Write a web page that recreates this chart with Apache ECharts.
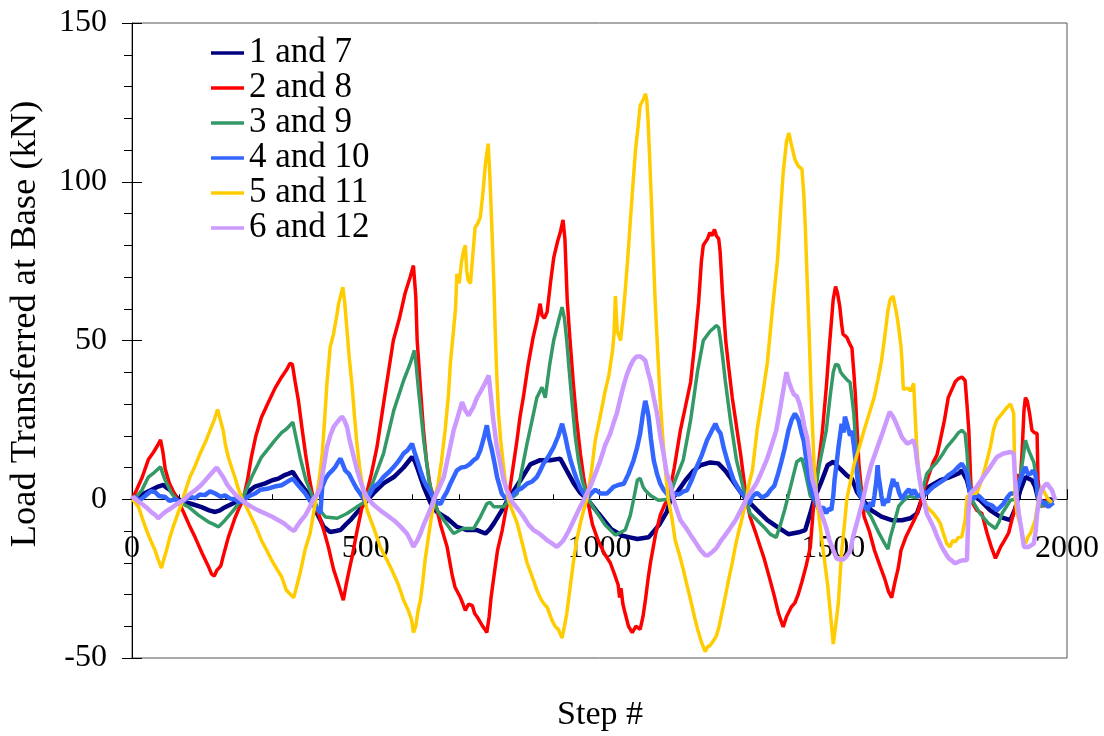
<!DOCTYPE html>
<html>
<head>
<meta charset="utf-8">
<script src="https://cdn.jsdelivr.net/npm/echarts@6/dist/echarts.min.js"></script>
<style>html,body{margin:0;padding:0;background:#fff}#c{width:1104px;height:736px}</style>
</head>
<body>
<div id="c"></div>
<script>
var seriesNames = ['1 and 7','2 and 8','3 and 9','4 and 10','5 and 11','6 and 12'];
var xTicks = [0,500,1000,1500,2000];
var yTicks = [-50,0,50,100,150];

var load1and7 = [[0,0],[15,1],[28,2],[42,3],[56,4],[67,4.5],[75,3.5],[81,3],[90,1.5],[99,0],[115,-1],[128,-1.5],[149,-2.5],[165,-3.5],[178,-4],[188,-3.5],[199,-2.5],[220,-1],[238,0],[250,2.5],[263,4],[285,5],[300,6],[313,6.5],[325,7.5],[334,8],[344,8.6],[355,6],[370,3],[385,0.5],[396,-4.5],[410,-8.7],[424,-10.3],[436,-10],[446,-9.7],[457,-8],[467,-6.6],[485,-3.5],[499,-1],[517,2],[538,5],[560,7],[581,10],[599,13.3],[605,12],[610,10],[624,4],[638,-1],[652,-4],[674,-6],[695,-8.7],[717,-9.7],[738,-9.7],[756,-10.8],[765,-9.5],[774,-7.6],[791,-3.5],[805,0],[818,3],[831,6],[852,11],[873,12.3],[895,12.3],[916,12.8],[930,9],[945,5],[959,2],[974,0],[998,-4.5],[1025,-9.4],[1049,-11.5],[1065,-12],[1081,-12.5],[1105,-12],[1128,-8],[1144,-4],[1150,-1],[1169,2.8],[1184,6],[1201,9],[1216,10.7],[1237,11.6],[1254,11.3],[1269,9],[1284,6],[1302,2.2],[1314,0],[1337,-3.4],[1359,-6.6],[1381,-8.8],[1404,-11],[1426,-10.4],[1440,-9.7],[1451,-4.4],[1459,0],[1474,5.3],[1488,10.7],[1500,11.8],[1514,9.7],[1529,7.5],[1540,6.4],[1551,2.2],[1562,0],[1581,-3.4],[1603,-5.5],[1625,-6.6],[1647,-6.6],[1665,-6],[1679,-4.5],[1689,-0.3],[1704,3.9],[1729,6],[1750,7],[1768,8.1],[1775,9.1],[1786,6],[1793,1.8],[1814,-0.3],[1836,-3.5],[1858,-5.6],[1879,-6.6],[1889,-3],[1900,2.8],[1911,7],[1925,6],[1932,3.9],[1939,-0.3],[1950,-1],[1964,0],[1972,-0.5]];

var load2and8 = [[0,0],[10,3],[22,7],[35,12.5],[46,14.8],[55,17],[61,18.7],[66,15],[71,9.5],[80,5],[90,2],[97,0],[110,-4],[122,-8],[135,-12],[150,-17],[163,-21],[170,-23.5],[176,-24.2],[181,-22.5],[185,-23],[190,-21],[195,-18],[206,-12],[220,-6],[230,-2.5],[238,0],[247,6],[255,13],[265,20],[277,25.8],[290,30],[306,35],[318,38],[330,40.6],[338,42.8],[343,42.5],[349,37],[356,31],[364,22],[371,14.5],[380,6],[388,0],[400,-5],[410,-9.7],[420,-15],[431,-22],[442,-27],[452,-31.8],[458,-27],[465,-22],[471,-18],[480,-11],[492,-2.5],[499,0],[512,8],[524,16.4],[540,32],[559,50],[572,57],[584,64.8],[595,70],[602,73.6],[607,64],[610,50],[617,35],[623,22.6],[630,12],[638,4],[647,0],[660,-8],[674,-15],[685,-24],[691,-27.7],[702,-30.8],[708,-33],[713,-35],[720,-33],[728,-33.5],[733,-36],[738,-37],[748,-39.5],[755,-41],[759,-42],[764,-37],[768,-31],[773,-25.5],[782,-16],[792,-9.7],[799,-4],[805,0],[815,10],[823,18],[830,26],[837,32],[847,42],[858,51],[866,56],[873,61.6],[877,58],[882,57],[888,59],[895,68],[902,76],[910,81],[916,84],[922,88],[926,82],[931,62.6],[937,50],[944,36.5],[951,25],[959,14.5],[966,7],[974,0],[985,-8],[997,-13],[1010,-17],[1023,-20],[1033,-24],[1040,-27],[1043,-31],[1046,-28],[1050,-33],[1055,-36],[1062,-40],[1070,-42],[1078,-40],[1087,-41],[1093,-37],[1098,-32],[1104,-25],[1109,-20],[1120,-11],[1130,-5],[1140,-1.5],[1147,0],[1160,10],[1173,21.7],[1185,30],[1195,37],[1203,48],[1212,62],[1218,75],[1222,80],[1231,82],[1236,84],[1241,83],[1246,85],[1250,83],[1255,82],[1258,78],[1263,65],[1270,50],[1276,42],[1284,32],[1291,25],[1297,19],[1302,14],[1309,6],[1314,0],[1322,-5.5],[1335,-11],[1352,-18.6],[1364,-25],[1374,-30.5],[1383,-36],[1390,-39],[1393,-40.2],[1400,-37],[1410,-34],[1418,-32.6],[1425,-30],[1433,-26],[1442,-21],[1451,-15],[1459,0],[1466,8],[1477,21.7],[1485,35],[1492,48.7],[1500,63],[1505,67],[1509,65],[1514,60.7],[1518,55],[1521,52],[1529,51],[1535,49],[1540,47.6],[1544,40],[1547,33.6],[1551,22],[1555,10.7],[1563,-1],[1566,-5.5],[1577,-10],[1588,-16],[1600,-21],[1610,-25],[1618,-29],[1625,-31],[1632,-26],[1639,-21.7],[1645,-16],[1655,-12],[1665,-9],[1675,-6],[1682,-3.5],[1692,2],[1703,7],[1714,11.7],[1722,14],[1729,18.6],[1738,25],[1746,32],[1755,35],[1761,37],[1768,38],[1775,38.5],[1782,37.4],[1786,30],[1790,21.7],[1794,6],[1797,-1],[1807,-3.5],[1818,-4.5],[1829,-10.7],[1838,-15],[1847,-18.6],[1852,-17],[1858,-15],[1866,-13],[1875,-10.7],[1883,-6],[1890,-2.4],[1893,3],[1897,8],[1900,6],[1904,15],[1908,28],[1911,32],[1915,31],[1920,27],[1925,21.7],[1930,21],[1936,20.7],[1938,6],[1943,0],[1950,-2.4],[1957,0],[1965,-1]];

var load3and9 = [[0,0],[10,1],[21,2.8],[35,7],[48,8.5],[61,10.2],[66,8],[71,6],[85,1.8],[99,-0.8],[121,-2.4],[142,-5],[163,-7.1],[176,-8],[185,-8.7],[199,-6.6],[217,-3.5],[238,0.7],[256,7],[277,13.3],[292,16],[306,18.6],[320,21],[331,22.2],[344,24.3],[350,20],[360,13],[372,6],[385,1.3],[396,-2.4],[414,-5.6],[439,-6],[460,-4.5],[481,-2.4],[499,-0.8],[517,6],[538,14.4],[560,28],[581,37.4],[595,42.7],[604,46.9],[608,42],[613,34.3],[624,18.6],[635,6],[645,-0.3],[655,-4],[667,-6.6],[688,-10.8],[709,-9.2],[731,-9.2],[745,-5.6],[759,-1.4],[766,-1],[774,-2.4],[795,-2.4],[806,-0.3],[824,1.8],[845,17.5],[856,25],[866,32],[877,35.3],[884,32],[893,42],[902,50],[912,56],[920,60.5],[925,57],[930,50],[935,41],[941,31],[948,20],[955,12.3],[963,6],[970,2.8],[976,0],[991,-3.5],[1012,-8],[1034,-11.3],[1055,-9.7],[1066,-5],[1073,0],[1081,6],[1087,6.6],[1093,4],[1098,2.8],[1109,1.2],[1126,-0.3],[1147,0],[1162,6],[1179,12.3],[1195,25],[1210,40.6],[1222,50],[1237,53],[1245,54],[1250,54.7],[1255,54],[1259,50],[1264,44],[1269,37.4],[1280,25],[1293,12.3],[1306,4.4],[1314,0],[1322,-4.4],[1352,-8.8],[1365,-11],[1378,-12],[1387,-8],[1396,-3.4],[1411,5.3],[1422,11.8],[1433,12.9],[1440,8.6],[1451,1],[1459,0],[1470,10.7],[1485,21.6],[1493,32],[1500,40],[1505,42.5],[1511,42.2],[1516,40],[1521,39],[1530,37.5],[1536,36.8],[1540,32],[1544,27],[1548,18],[1551,10.7],[1562,-1.2],[1581,-5.5],[1599,-11],[1610,-14],[1617,-15.7],[1622,-12],[1628,-8.8],[1640,-2.2],[1650,-0.5],[1662,1],[1675,0.5],[1686,1],[1693,4],[1700,8],[1711,10],[1722,11.7],[1733,14],[1743,16.4],[1752,18],[1761,19.6],[1768,21],[1775,21.7],[1782,20.7],[1786,15],[1789,8],[1797,-0.3],[1814,-4.5],[1832,-7.6],[1847,-9.2],[1855,-7],[1861,-4.5],[1879,-0.3],[1889,0],[1895,3],[1900,7],[1906,13],[1911,18.6],[1918,15.4],[1925,13],[1929,11.7],[1933,8],[1936,1.8],[1943,-2.4],[1953,-1.4],[1964,-0.3]];

var load4and10 = [[0,0],[7,0.7],[15,-0.5],[28,1],[40,2.5],[49,2.3],[58,1],[71,0.7],[80,-0.5],[92,0],[103,-0.8],[113,-0.3],[124,0.8],[135,0.3],[145,1.5],[156,1.3],[167,2.5],[178,1.8],[189,0.8],[199,1.2],[210,0.2],[220,0],[230,-1],[238,-0.3],[250,1],[263,1.8],[275,3],[292,3.4],[305,4],[320,4.4],[332,5.5],[344,6.5],[355,4.5],[370,2],[385,-1.4],[396,-3],[403,-4.4],[407,4],[414,6.5],[421,8],[428,9],[435,10.2],[440,11.5],[446,12.8],[451,11],[456,9.1],[464,8],[471,6],[480,3.5],[488,1.8],[499,-0.7],[508,1.5],[517,3.9],[527,5],[538,7],[549,8.5],[560,10.2],[570,12],[581,14.4],[590,15.5],[599,17.5],[604,15],[610,12.3],[617,9],[624,6],[631,4],[638,2.3],[645,0.5],[652,-1],[660,-1.5],[667,0.7],[674,2.5],[681,4.9],[688,7],[695,9.1],[704,10],[713,10.2],[722,11],[731,12.3],[738,13],[745,15.4],[752,19],[759,23.3],[764,19],[770,15.4],[776,11],[781,7],[791,1.8],[802,-0.3],[813,1],[824,2.8],[834,3.5],[845,4.9],[855,5.5],[866,7],[873,9],[880,11.2],[891,13.5],[902,16.4],[912,20],[920,23.8],[927,19.6],[932,16],[938,12.3],[945,9],[952,6],[959,3.5],[966,1.8],[974,0],[980,1.5],[991,3],[1002,1.8],[1016,1.8],[1030,3.9],[1040,4.5],[1052,4.9],[1062,8],[1073,12.3],[1080,16],[1087,20.7],[1093,27],[1098,31],[1101,29],[1105,25.9],[1110,19],[1116,12.3],[1123,8],[1130,4.9],[1137,3],[1144,1.8],[1150,0.5],[1159,1.8],[1170,1.5],[1180,2.5],[1187,2.8],[1197,6],[1208,10.2],[1219,14],[1230,18.6],[1240,21.5],[1248,23.8],[1253,22],[1259,20.7],[1266,16],[1273,12.3],[1280,9],[1287,6],[1295,4],[1302,2.3],[1312,0.7],[1320,-1.5],[1328,1],[1337,2],[1348,0.5],[1359,1.5],[1366,3],[1374,4.2],[1382,8],[1389,11.8],[1396,16],[1404,21.6],[1411,25],[1418,27],[1422,26],[1426,24.8],[1432,21],[1437,18.3],[1444,10.7],[1450,5],[1455,2],[1462,-1],[1470,-3.4],[1478,-2.5],[1485,-4.4],[1490,-3],[1496,-3.4],[1500,1],[1503,6.4],[1507,11],[1511,16.2],[1518,23.8],[1522,21],[1525,26],[1529,24],[1533,23.8],[1536,20],[1540,21.6],[1544,17],[1548,11.8],[1555,2],[1562,0],[1567,-2],[1573,-3.4],[1580,-1],[1584,-2.3],[1588,1],[1592,5.4],[1595,10.7],[1597,7],[1599,5.4],[1603,1],[1607,-2],[1612,0],[1617,-1],[1622,3],[1628,6.4],[1632,4],[1635,5.3],[1641,2],[1647,0],[1655,2],[1662,3.1],[1668,1.5],[1673,3],[1680,1],[1686,1.2],[1693,2.5],[1700,1.8],[1707,3],[1714,3.9],[1725,5],[1736,6],[1746,7.5],[1757,8.6],[1766,10],[1775,11.2],[1780,10],[1786,8],[1793,1.8],[1800,0],[1807,1.5],[1814,0.7],[1822,-0.5],[1829,-1.4],[1840,-2],[1850,-3.5],[1857,-2.5],[1864,-1.4],[1872,0.5],[1879,1.8],[1889,1.8],[1895,4],[1900,6],[1906,8.5],[1911,10.2],[1916,8],[1922,8],[1927,9],[1932,8],[1936,4],[1939,-0.3],[1950,-1],[1960,-2.4],[1971,-1]];

var load5and11 = [[0,0],[7,-1],[14,-2.4],[22,-6],[31,-9.7],[40,-13],[49,-16],[56,-19],[63,-21.7],[68,-19],[74,-16],[80,-12.5],[88,-8.7],[97,-5],[106,-1.3],[115,3],[124,7],[135,10.5],[146,14.5],[157,18],[167,21.7],[176,25],[183,28.3],[189,25],[195,21.7],[200,17],[206,13.3],[213,10],[220,7],[227,3.5],[234,0.7],[245,-2.5],[255,-5.6],[266,-9],[277,-13],[288,-16],[298,-19],[310,-22],[320,-24.4],[330,-28.6],[339,-30],[346,-31],[353,-27],[360,-23],[370,-16],[381,-10.7],[390,-3],[396,2],[402,8],[407,14.5],[412,25],[417,36.5],[424,48],[431,52],[437,57],[442,61.6],[451,66.8],[455,62],[460,53],[465,44],[471,35.3],[476,26],[481,17.6],[487,10],[492,5],[498,0],[503,-3.5],[517,-9],[531,-15],[545,-19],[559,-23.3],[570,-27],[581,-31.8],[591,-35],[598,-38],[602,-42],[607,-40],[612,-35],[617,-31.8],[622,-26],[627,-19],[632,-14],[640,-6],[647,0],[655,5],[662,12],[670,22],[677,33],[681,42.8],[687,52],[692,60],[695,71],[700,68],[705,75],[709,78],[713,80],[716,72],[719,69],[724,68],[729,77],[734,85.6],[740,87],[745,88.8],[751,97],[756,105.6],[760,110],[762,112],[766,100],[770,84.6],[774,68],[777,53],[780,40],[784,27],[789,18],[794,11.3],[799,5],[805,0],[812,-3],[824,-7.6],[835,-14],[845,-20],[855,-24],[866,-28.6],[873,-31],[880,-32.7],[888,-34],[898,-38],[905,-40],[912,-41],[920,-43.7],[925,-40],[930,-36],[937,-28],[944,-20],[951,-13],[959,-7.6],[966,-3.5],[973,0],[982,8],[991,18.6],[1000,25],[1012,34],[1020,39],[1028,47],[1031,52],[1034,64],[1036,58],[1038,53],[1045,50],[1050,57],[1055,65.7],[1060,75],[1066,87.7],[1071,98],[1077,110],[1083,118],[1087,124],[1094,126],[1098,127.7],[1101,126],[1104,119],[1108,105],[1111,94],[1115,78],[1119,62.6],[1125,45],[1130,31],[1135,20],[1139,12.3],[1143,6],[1147,0],[1155,-6],[1162,-13],[1170,-17],[1179,-22],[1187,-27],[1195,-31.8],[1203,-37],[1210,-41],[1218,-45],[1226,-48],[1231,-46.5],[1237,-46],[1244,-44.5],[1250,-43],[1256,-40],[1263,-35],[1270,-30],[1276,-25.5],[1284,-20],[1291,-14.5],[1298,-10],[1304,-6.6],[1314,0],[1320,5],[1327,9],[1337,21.7],[1348,32],[1359,43],[1370,60],[1381,75.8],[1387,90],[1393,103],[1400,112.7],[1405,115.4],[1410,112],[1418,107],[1425,105],[1433,104],[1437,96],[1440,86.7],[1444,70],[1448,54],[1453,32],[1459,10.7],[1465,0],[1474,-11],[1481,-19],[1488,-27],[1494,-36],[1500,-45.6],[1505,-40],[1511,-32.6],[1518,-16.4],[1524,-8],[1529,0],[1536,5],[1544,10.7],[1555,16],[1566,21.7],[1577,27],[1588,32.4],[1596,38],[1603,43.4],[1610,51],[1617,59.5],[1622,63],[1628,64],[1632,64],[1636,58],[1640,54],[1645,48],[1647,43.4],[1650,34.6],[1660,35],[1665,34],[1672,36.5],[1675,27],[1678,18],[1682,10],[1689,1.8],[1700,-2.4],[1714,-4.4],[1722,-6],[1729,-7.6],[1736,-11],[1743,-14],[1750,-15],[1755,-13],[1761,-13.4],[1768,-12],[1775,-11.8],[1782,-6.6],[1786,0.7],[1797,1.8],[1807,2],[1815,5],[1825,10],[1836,16.4],[1843,22],[1850,25],[1861,27],[1872,29],[1879,30],[1884,28],[1886,27],[1889,0.7],[1893,-4.4],[1900,-8],[1906,-12],[1911,-14],[1916,-12],[1922,-10.7],[1932,-6.6],[1939,0],[1946,3.9],[1953,1.8],[1960,0],[1968,-1]];

var load6and12 = [[0,0],[3,0.7],[12,-0.5],[20,-1.3],[30,-2.5],[41,-4],[50,-5],[56,-6],[63,-5],[71,-4],[82,-3],[92,-1.9],[101,-1],[110,-0.3],[122,1.5],[135,2.8],[148,4.5],[163,7],[172,8.5],[181,10],[188,8.5],[195,7],[204,4.5],[213,2.8],[224,1],[235,-0.3],[246,-1.5],[256,-2.4],[270,-3.5],[285,-4.5],[300,-5.5],[313,-6.6],[324,-7.5],[334,-8.7],[341,-9.5],[347,-10],[352,-8.7],[360,-7],[371,-5],[380,-2.5],[388,0],[396,1.5],[403,3.9],[410,10],[417,16.4],[424,20],[431,22.7],[440,24.5],[449,26],[454,25],[460,22.7],[465,19],[471,15.4],[480,10],[488,6],[495,3],[502,0.7],[515,-1.5],[531,-3.5],[545,-5],[560,-6.6],[575,-8.7],[588,-10.8],[596,-13],[602,-15],[610,-13],[617,-10.8],[624,-8],[631,-5.6],[640,-2.5],[645,-0.3],[655,3],[667,7],[677,14],[688,21.7],[697,26],[706,30.6],[713,28],[720,26.4],[730,29],[738,32],[746,34],[755,36.5],[763,39],[768,32],[773,24.8],[780,17],[788,11.2],[795,6],[802,2.8],[813,-0.8],[825,-3],[838,-5.6],[848,-8],[859,-9.7],[873,-11],[888,-12.9],[899,-14],[909,-15],[916,-14],[923,-12.9],[934,-10],[945,-6.6],[955,-3.5],[966,-0.3],[980,3.9],[991,8],[1002,12.3],[1012,17],[1023,20.7],[1030,24],[1037,27],[1045,32],[1052,36],[1059,39.5],[1066,42],[1073,44],[1080,45],[1087,45],[1092,44.5],[1098,43.7],[1104,40],[1109,37.4],[1116,32],[1123,27],[1130,20],[1137,14.4],[1144,8],[1151,5],[1160,-1],[1173,-6.6],[1185,-9],[1195,-11.3],[1205,-13.5],[1216,-16],[1226,-17.6],[1233,-17.6],[1242,-16.5],[1250,-15.4],[1260,-13],[1269,-11.3],[1280,-9],[1291,-6.6],[1302,-3.5],[1314,0],[1325,2.5],[1337,5.4],[1348,9],[1359,12.9],[1368,17],[1378,21.6],[1387,29],[1396,36.8],[1400,40],[1405,37],[1411,34.6],[1416,33],[1422,32.4],[1428,30],[1433,27],[1438,23],[1444,19.5],[1450,13],[1455,6.4],[1463,2.2],[1470,-2],[1477,-5.5],[1485,-9],[1492,-13],[1500,-16],[1507,-18.6],[1514,-19],[1521,-19],[1528,-18],[1536,-16.4],[1542,-12],[1548,-8.8],[1555,-5],[1562,-1.2],[1571,5],[1581,10.7],[1590,14.5],[1599,18.3],[1608,22],[1617,26],[1621,27.5],[1625,28],[1628,26],[1632,24.8],[1640,22],[1647,19.5],[1658,17.5],[1665,18],[1672,18.6],[1676,16],[1679,12.3],[1684,7],[1689,2.8],[1700,-4.5],[1714,-8.7],[1723,-12],[1732,-15],[1740,-17],[1747,-18.6],[1755,-19.5],[1761,-20.2],[1770,-19.5],[1778,-19.2],[1786,-19.2],[1789,-4.5],[1793,1.8],[1807,3.9],[1821,7],[1836,10.2],[1850,13.3],[1864,14.4],[1879,14.9],[1886,14.4],[1889,6],[1893,0],[1897,-4.5],[1903,-10],[1908,-15],[1918,-15],[1929,-14],[1933,-10],[1936,-4.5],[1943,1.8],[1950,4],[1957,5],[1962,4],[1968,2.8],[1975,-0.3]];

var seriesData = [load1and7, load2and8, load3and9, load4and10, load5and11, load6and12];
var seriesColors = ['#000080','#FF0000','#339966','#3366FF','#FFCC00','#CC99FF'];
var seriesWidths = [4.5, 3.5, 3.5, 4.5, 3.5, 4.5];

var FONT = '"Liberation Serif", "Times New Roman", serif';
var chart = echarts.init(document.getElementById('c'), null, {renderer: 'canvas'});
var series = seriesNames.map(function (n, i) {
  return {
    name: n, type: 'line', data: seriesData[i], showSymbol: false, symbol: 'none',
    lineStyle: {color: seriesColors[i], width: seriesWidths[i]}, itemStyle: {color: seriesColors[i]},
    xAxisIndex: 0, yAxisIndex: 0, animation: false, z: 2 + i
  };
});
chart.setOption({
  animation: false,
  backgroundColor: '#ffffff',
  grid: {left: 132, right: 37, top: 23, bottom: 78, show: true, borderColor: '#555555', borderWidth: 1, containLabel: false},
  legend: {
    data: seriesNames, orient: 'vertical', left: 211, top: 35.5, padding: 0, itemWidth: 33, itemHeight: 3.5, itemGap: 0,
    icon: 'rect', textStyle: {fontFamily: FONT, fontSize: 35, lineHeight: 35, color: '#000'}
  },
  xAxis: [{
    type: 'value', min: xTicks[0], max: xTicks[xTicks.length - 1], interval: 500, position: 'bottom', offset: -158.75,
    axisLine: {show: true, onZero: false, lineStyle: {color: '#000', width: 1}},
    axisTick: {show: true, inside: true, length: 10, lineStyle: {color: '#000'}},
    minorTick: {show: true, splitNumber: 5, length: 5, lineStyle: {color: '#000'}},
    axisLabel: {fontFamily: FONT, fontSize: 32, color: '#000', margin: 33, formatter: function (v) { return String(v); }},
    splitLine: {show: false}
  }],
  yAxis: [{
    type: 'value', min: yTicks[0], max: yTicks[yTicks.length - 1], interval: 50, position: 'left',
    axisLine: {show: true, onZero: false, lineStyle: {color: '#000', width: 1}},
    axisTick: {show: true, inside: false, length: 10, lineStyle: {color: '#000'}},
    minorTick: {show: true, splitNumber: 5, length: 8, lineStyle: {color: '#000'}},
    axisLabel: {fontFamily: FONT, fontSize: 32, color: '#000', margin: 25, formatter: function (v) { return String(v); }},
    splitLine: {show: false}
  }, {
    type: 'value', min: yTicks[0], max: yTicks[yTicks.length - 1], interval: 50, position: 'left',
    axisLine: {show: false, onZero: false},
    axisTick: {show: true, inside: true, length: 10, lineStyle: {color: '#000'}},
    axisLabel: {show: false}, splitLine: {show: false}
  }],
  graphic: [
    {type: 'text', x: 25, y: 324, rotation: Math.PI / 2, style: {text: 'Load Transferred at Base (kN)', font: '36.5px ' + FONT, fill: '#000', align: 'center', verticalAlign: 'middle'}},
    {type: 'text', x: 600, y: 715, style: {text: 'Step #', font: '34px ' + FONT, fill: '#000', align: 'center', verticalAlign: 'middle'}}
  ],
  series: series
});
</script>
</body>
</html>
